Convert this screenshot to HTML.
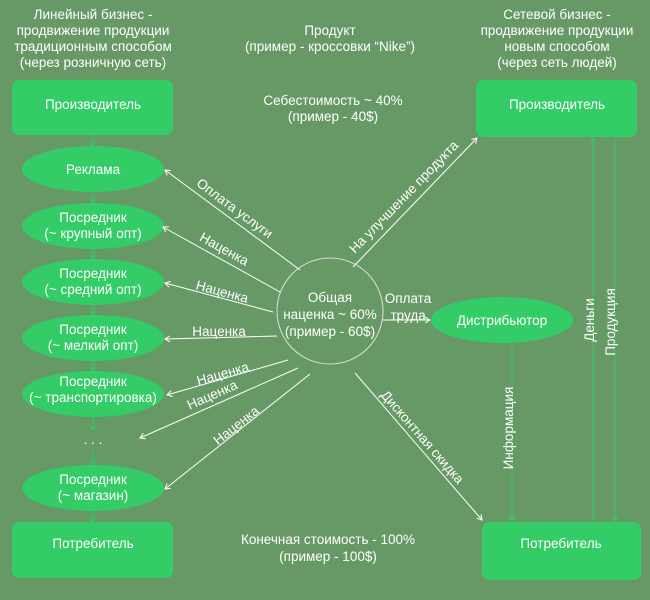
<!DOCTYPE html>
<html><head><meta charset="utf-8"><style>
html,body{margin:0;padding:0;background:#679966;}
svg{display:block;font-family:"Liberation Sans",sans-serif;}
</style></head><body>
<svg width="650" height="600" viewBox="0 0 650 600" xmlns="http://www.w3.org/2000/svg">
<defs>
<marker id="aw" markerWidth="8" markerHeight="8" refX="6" refY="4" orient="auto" markerUnits="userSpaceOnUse"><path d="M1,1 L6,4 L1,7" fill="none" stroke="#fff" stroke-width="1"/></marker>
<marker id="ag" markerWidth="8" markerHeight="8" refX="6" refY="4" orient="auto" markerUnits="userSpaceOnUse"><path d="M1,1 L6,4 L1,7" fill="none" stroke="#33cc66" stroke-width="1"/></marker>
</defs>
<rect width="650" height="600" fill="#679966"/>
<g fill="#fff" font-size="13.5" text-anchor="middle">
<text x="93" y="19">Линейный бизнес -</text>
<text x="93" y="35">продвижение продукции</text>
<text x="93" y="51">традиционным способом</text>
<text x="93" y="67">(через розничную сеть)</text>
<text x="330" y="35">Продукт</text>
<text x="330" y="51">(пример - кроссовки “Nike”)</text>
<text x="557" y="19">Сетевой бизнес -</text>
<text x="557" y="35">продвижение продукции</text>
<text x="557" y="51">новым способом</text>
<text x="557" y="67">(через сеть людей)</text>
<text x="333" y="105">Себестоимость ~ 40%</text>
<text x="333" y="121">(пример - 40$)</text>
<text x="328" y="544">Конечная стоимость - 100%</text>
<text x="328" y="561">(пример - 100$)</text>
</g>
<g stroke="#33cc66" stroke-width="1" fill="none">
<line x1="93" y1="135" x2="93" y2="146" marker-end="url(#ag)"/>
<line x1="93" y1="192" x2="93" y2="203" marker-end="url(#ag)"/>
<line x1="93" y1="249" x2="93" y2="259" marker-end="url(#ag)"/>
<line x1="93" y1="305" x2="93" y2="315" marker-end="url(#ag)"/>
<line x1="93" y1="361" x2="93" y2="371" marker-end="url(#ag)"/>
<line x1="93" y1="417" x2="93" y2="430" marker-end="url(#ag)"/>
<line x1="93" y1="450" x2="93" y2="465" marker-end="url(#ag)"/>
<line x1="93" y1="511" x2="93" y2="522" marker-end="url(#ag)"/>
<line x1="512" y1="343" x2="512" y2="521" marker-end="url(#ag)"/>
<line x1="593" y1="522" x2="593" y2="138" marker-end="url(#ag)"/>
<line x1="615" y1="137" x2="615" y2="521" marker-end="url(#ag)"/>
</g>
<g fill="#33cc66">
<rect x="12" y="80" width="161" height="55" rx="7"/>
<rect x="476" y="80" width="161" height="57" rx="7"/>
<rect x="12" y="522" width="161" height="56" rx="7"/>
<rect x="482" y="522" width="159" height="58" rx="7"/>
<ellipse cx="93" cy="169" rx="71" ry="23"/>
<ellipse cx="93" cy="226" rx="71" ry="23"/>
<ellipse cx="93" cy="282" rx="71" ry="23"/>
<ellipse cx="93" cy="338" rx="71" ry="23"/>
<ellipse cx="93" cy="394" rx="71" ry="23"/>
<ellipse cx="93" cy="488" rx="71" ry="23"/>
<ellipse cx="502" cy="320" rx="71" ry="23"/>
</g>
<circle cx="330" cy="311" r="53" fill="none" stroke="#ddd" stroke-width="1"/>
<g fill="#fff" font-size="13.5" text-anchor="middle">
<text x="93" y="109">Производитель</text>
<text x="557" y="109">Производитель</text>
<text x="93" y="548">Потребитель</text>
<text x="561" y="548">Потребитель</text>
<text x="93" y="174">Реклама</text>
<text x="93" y="222">Посредник</text><text x="93" y="238">(~ крупный опт)</text>
<text x="93" y="278">Посредник</text><text x="93" y="294">(~ средний опт)</text>
<text x="93" y="334">Посредник</text><text x="93" y="350">(~ мелкий опт)</text>
<text x="93" y="386">Посредник</text><text x="93" y="402">(~ транспортировка)</text>
<text x="93" y="444">. . .</text>
<text x="93" y="484">Посредник</text><text x="93" y="500">(~ магазин)</text>
<text x="502" y="325">Дистрибьютор</text>
<text x="330" y="302">Общая</text>
<text x="330" y="319">наценка ~ 60%</text>
<text x="330" y="336">(пример - 60$)</text>
</g>
<g stroke="#fff" stroke-width="1" fill="none">
<line x1="300" y1="270" x2="165" y2="170" marker-end="url(#aw)"/>
<line x1="280" y1="292" x2="163" y2="227" marker-end="url(#aw)"/>
<line x1="273" y1="312" x2="165" y2="283" marker-end="url(#aw)"/>
<line x1="277" y1="336" x2="165" y2="339" marker-end="url(#aw)"/>
<line x1="288" y1="360" x2="167" y2="395" marker-end="url(#aw)"/>
<line x1="298" y1="368" x2="140" y2="438" marker-end="url(#aw)"/>
<line x1="310" y1="374" x2="165" y2="489" marker-end="url(#aw)"/>
<line x1="353" y1="267" x2="477" y2="138" marker-end="url(#aw)"/>
<line x1="383" y1="320" x2="430" y2="320" marker-end="url(#aw)"/>
<line x1="355" y1="373" x2="482" y2="520" marker-end="url(#aw)"/>
</g>
<g fill="#fff" font-size="13.5" text-anchor="middle">
<text transform="translate(232,212) rotate(36.5)">Оплата услуги</text>
<text transform="translate(222,253) rotate(29)">Наценка</text>
<text transform="translate(221,296) rotate(15)">Наценка</text>
<text x="219" y="336">Наценка</text>
<text transform="translate(224,378) rotate(-16)">Наценка</text>
<text transform="translate(214,399) rotate(-24)">Наценка</text>
<text transform="translate(239,429) rotate(-38)">Наценка</text>
<text transform="translate(407,200) rotate(-46)">На улучшение продукта</text>
<text transform="translate(419,440) rotate(49)">Дисконтная скидка</text>
<text x="408" y="303">Оплата</text>
<text x="410" y="320">труда,</text>
<text transform="translate(513,428) rotate(-90)">Информация</text>
<text transform="translate(594,320) rotate(-90)">Деньги</text>
<text transform="translate(615,322) rotate(-90)">Продукция</text>
</g>
</svg>
</body></html>
